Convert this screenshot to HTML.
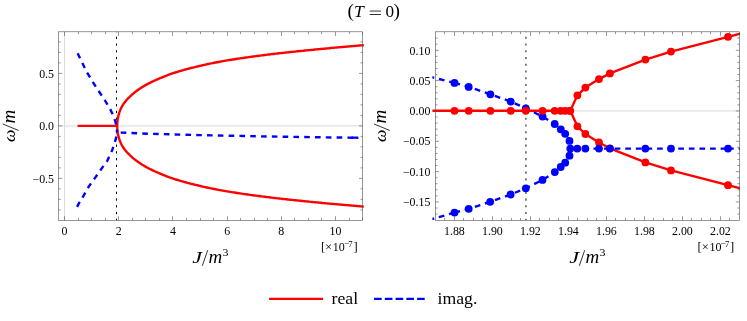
<!DOCTYPE html>
<html><head><meta charset="utf-8"><title>T=0</title>
<style>
html,body{margin:0;padding:0;background:#fff;}
body{width:747px;height:321px;overflow:hidden;font-family:"Liberation Serif",serif;}
svg{display:block;position:absolute;left:0;top:0;will-change:transform;}
</style></head><body>
<svg width="747" height="321" viewBox="0 0 747 321">
<rect width="747" height="321" fill="#fff"/>
<g fill="none">
<path d="M64.6 31.8 V220.3" stroke="#dadada" stroke-width="1"/>
<path d="M58.6 125.9 H362.6" stroke="#dadada" stroke-width="1"/>
<path d="M116.5 220.35 V31.8" stroke="#000" stroke-width="1" stroke-dasharray="2.3 4.44" stroke-dashoffset="0.6"/>
</g>
<clipPath id="cl"><rect x="58.6" y="31.8" width="305.2" height="188.5"/></clipPath>
<clipPath id="cr"><rect x="432.4" y="31.8" width="307.6" height="188.5"/></clipPath>
<g fill="none" clip-path="url(#cl)" stroke-linejoin="round">
<path d="M77.6 125.9 H117.2" stroke="#ff0000" stroke-width="2.4"/>
<path d="M364 45.18 L362.56 45.29 L361.12 45.41 L359.68 45.53 L358.24 45.65 L356.8 45.77 L355.36 45.89 L353.92 46.02 L352.48 46.14 L351.04 46.26 L349.6 46.39 L348.16 46.51 L346.72 46.64 L345.28 46.76 L343.84 46.89 L342.4 47.02 L340.96 47.14 L339.52 47.27 L338.08 47.4 L336.64 47.53 L335.19 47.66 L333.75 47.79 L332.31 47.92 L330.87 48.05 L329.43 48.18 L327.99 48.32 L326.55 48.45 L325.11 48.59 L323.67 48.72 L322.23 48.86 L320.79 49 L319.35 49.14 L317.91 49.27 L316.47 49.41 L315.03 49.55 L313.59 49.7 L312.15 49.84 L310.71 49.98 L309.27 50.12 L307.83 50.27 L306.39 50.41 L304.95 50.55 L303.51 50.7 L302.07 50.84 L300.63 50.99 L299.19 51.14 L297.75 51.28 L296.31 51.43 L294.87 51.58 L293.43 51.73 L291.99 51.88 L290.55 52.04 L289.11 52.19 L287.67 52.35 L286.23 52.5 L284.79 52.66 L283.35 52.82 L281.91 52.98 L280.47 53.14 L279.03 53.31 L277.58 53.47 L276.14 53.64 L274.7 53.81 L273.26 53.98 L271.82 54.15 L270.38 54.32 L268.94 54.49 L267.5 54.67 L266.06 54.85 L264.62 55.02 L263.18 55.21 L261.74 55.39 L260.3 55.57 L258.86 55.76 L257.42 55.95 L255.98 56.14 L254.54 56.33 L253.1 56.52 L251.66 56.72 L250.22 56.92 L248.78 57.12 L247.34 57.32 L245.9 57.53 L244.46 57.73 L243.02 57.94 L241.58 58.16 L240.14 58.37 L238.7 58.59 L237.26 58.81 L235.82 59.03 L234.38 59.26 L232.94 59.49 L231.5 59.72 L230.06 59.95 L228.62 60.19 L227.18 60.43 L225.74 60.68 L224.3 60.92 L222.86 61.18 L221.42 61.44 L219.97 61.7 L218.53 61.96 L217.09 62.23 L215.65 62.5 L214.21 62.78 L212.77 63.06 L211.33 63.35 L209.89 63.65 L208.45 63.96 L207.01 64.27 L205.57 64.59 L204.13 64.92 L202.69 65.25 L201.25 65.58 L199.81 65.92 L198.37 66.26 L196.93 66.6 L195.49 66.94 L194.05 67.3 L192.61 67.65 L191.17 68.01 L189.73 68.38 L188.29 68.76 L186.85 69.14 L185.41 69.53 L183.97 69.93 L182.53 70.34 L181.09 70.76 L179.65 71.18 L178.21 71.61 L176.77 72.06 L175.33 72.51 L173.89 72.98 L172.45 73.46 L171.01 73.95 L169.57 74.45 L168.13 74.99 L166.69 75.54 L165.25 76.11 L163.81 76.7 L162.36 77.28 L160.92 77.87 L159.48 78.46 L158.04 79.06 L156.6 79.68 L155.16 80.32 L153.72 80.98 L152.28 81.66 L150.84 82.36 L149.4 83.08 L147.96 83.82 L146.52 84.59 L145.08 85.39 L143.64 86.23 L142.2 87.1 L140.76 88.01 L139.32 88.96 L137.88 89.96 L136.44 91.01 L135 92.12 L134.85 92.24 L134.7 92.36 L134.55 92.48 L134.4 92.61 L134.25 92.73 L134.1 92.85 L133.95 92.98 L133.8 93.1 L133.65 93.23 L133.5 93.35 L133.35 93.48 L133.21 93.61 L133.06 93.74 L132.91 93.87 L132.76 94 L132.61 94.13 L132.46 94.26 L132.31 94.39 L132.16 94.53 L132.01 94.66 L131.86 94.8 L131.71 94.94 L131.56 95.07 L131.41 95.21 L131.26 95.35 L131.11 95.48 L130.96 95.62 L130.81 95.76 L130.66 95.9 L130.51 96.04 L130.36 96.18 L130.21 96.32 L130.06 96.46 L129.91 96.6 L129.76 96.74 L129.62 96.88 L129.47 97.02 L129.32 97.17 L129.17 97.31 L129.02 97.46 L128.87 97.61 L128.72 97.75 L128.57 97.9 L128.42 98.05 L128.27 98.2 L128.12 98.35 L127.97 98.51 L127.82 98.66 L127.67 98.82 L127.52 98.98 L127.37 99.13 L127.22 99.29 L127.07 99.46 L126.92 99.62 L126.77 99.79 L126.62 99.95 L126.47 100.12 L126.32 100.29 L126.17 100.46 L126.03 100.64 L125.88 100.81 L125.73 100.99 L125.58 101.17 L125.43 101.36 L125.28 101.54 L125.13 101.73 L124.98 101.92 L124.83 102.11 L124.68 102.31 L124.53 102.51 L124.38 102.71 L124.23 102.92 L124.08 103.12 L123.93 103.34 L123.78 103.55 L123.63 103.77 L123.48 103.99 L123.33 104.22 L123.18 104.45 L123.03 104.68 L122.88 104.92 L122.73 105.16 L122.58 105.41 L122.44 105.66 L122.29 105.92 L122.14 106.18 L121.99 106.45 L121.84 106.73 L121.69 107.01 L121.54 107.29 L121.39 107.59 L121.24 107.89 L121.09 108.19 L120.94 108.51 L120.79 108.83 L120.64 109.17 L120.49 109.51 L120.34 109.86 L120.19 110.22 L120.04 110.59 L119.89 110.98 L119.74 111.38 L119.59 111.79 L119.44 112.22 L119.29 112.66 L119.14 113.12 L118.99 113.61 L118.85 114.11 L118.7 114.64 L118.55 115.2 L118.4 115.8 L118.25 116.44 L118.1 117.13 L117.95 117.88 L117.8 118.71 L117.65 119.66 L117.5 120.8 L117.35 122.29 L117.2 125.9 L117.35 129.51 L117.5 131 L117.65 132.14 L117.8 133.09 L117.95 133.92 L118.1 134.67 L118.25 135.36 L118.4 136 L118.55 136.6 L118.7 137.16 L118.85 137.69 L118.99 138.19 L119.14 138.68 L119.29 139.14 L119.44 139.58 L119.59 140.01 L119.74 140.42 L119.89 140.82 L120.04 141.21 L120.19 141.58 L120.34 141.94 L120.49 142.29 L120.64 142.63 L120.79 142.97 L120.94 143.29 L121.09 143.61 L121.24 143.91 L121.39 144.21 L121.54 144.51 L121.69 144.79 L121.84 145.07 L121.99 145.35 L122.14 145.62 L122.29 145.88 L122.44 146.14 L122.58 146.39 L122.73 146.64 L122.88 146.88 L123.03 147.12 L123.18 147.35 L123.33 147.58 L123.48 147.81 L123.63 148.03 L123.78 148.25 L123.93 148.46 L124.08 148.68 L124.23 148.88 L124.38 149.09 L124.53 149.29 L124.68 149.49 L124.83 149.69 L124.98 149.88 L125.13 150.07 L125.28 150.26 L125.43 150.44 L125.58 150.63 L125.73 150.81 L125.88 150.99 L126.03 151.16 L126.17 151.34 L126.32 151.51 L126.47 151.68 L126.62 151.85 L126.77 152.01 L126.92 152.18 L127.07 152.34 L127.22 152.51 L127.37 152.67 L127.52 152.82 L127.67 152.98 L127.82 153.14 L127.97 153.29 L128.12 153.45 L128.27 153.6 L128.42 153.75 L128.57 153.9 L128.72 154.05 L128.87 154.19 L129.02 154.34 L129.17 154.49 L129.32 154.63 L129.47 154.78 L129.62 154.92 L129.76 155.06 L129.91 155.2 L130.06 155.34 L130.21 155.48 L130.36 155.62 L130.51 155.76 L130.66 155.9 L130.81 156.04 L130.96 156.18 L131.11 156.32 L131.26 156.45 L131.41 156.59 L131.56 156.73 L131.71 156.86 L131.86 157 L132.01 157.14 L132.16 157.27 L132.31 157.41 L132.46 157.54 L132.61 157.67 L132.76 157.8 L132.91 157.93 L133.06 158.06 L133.21 158.19 L133.35 158.32 L133.5 158.45 L133.65 158.57 L133.8 158.7 L133.95 158.82 L134.1 158.95 L134.25 159.07 L134.4 159.19 L134.55 159.32 L134.7 159.44 L134.85 159.56 L135 159.68 L136.44 160.79 L137.88 161.84 L139.32 162.84 L140.76 163.79 L142.2 164.7 L143.64 165.57 L145.08 166.41 L146.52 167.21 L147.96 167.98 L149.4 168.72 L150.84 169.44 L152.28 170.14 L153.72 170.82 L155.16 171.48 L156.6 172.12 L158.04 172.74 L159.48 173.34 L160.92 173.93 L162.36 174.52 L163.81 175.1 L165.25 175.69 L166.69 176.26 L168.13 176.81 L169.57 177.35 L171.01 177.85 L172.45 178.34 L173.89 178.82 L175.33 179.29 L176.77 179.74 L178.21 180.19 L179.65 180.62 L181.09 181.04 L182.53 181.46 L183.97 181.87 L185.41 182.27 L186.85 182.66 L188.29 183.04 L189.73 183.42 L191.17 183.79 L192.61 184.15 L194.05 184.5 L195.49 184.86 L196.93 185.2 L198.37 185.54 L199.81 185.88 L201.25 186.22 L202.69 186.55 L204.13 186.88 L205.57 187.21 L207.01 187.53 L208.45 187.84 L209.89 188.15 L211.33 188.45 L212.77 188.74 L214.21 189.02 L215.65 189.3 L217.09 189.57 L218.53 189.84 L219.97 190.1 L221.42 190.36 L222.86 190.62 L224.3 190.88 L225.74 191.12 L227.18 191.37 L228.62 191.61 L230.06 191.85 L231.5 192.08 L232.94 192.31 L234.38 192.54 L235.82 192.77 L237.26 192.99 L238.7 193.21 L240.14 193.43 L241.58 193.64 L243.02 193.86 L244.46 194.07 L245.9 194.27 L247.34 194.48 L248.78 194.68 L250.22 194.88 L251.66 195.08 L253.1 195.28 L254.54 195.47 L255.98 195.66 L257.42 195.85 L258.86 196.04 L260.3 196.23 L261.74 196.41 L263.18 196.59 L264.62 196.78 L266.06 196.95 L267.5 197.13 L268.94 197.31 L270.38 197.48 L271.82 197.65 L273.26 197.82 L274.7 197.99 L276.14 198.16 L277.58 198.33 L279.03 198.49 L280.47 198.66 L281.91 198.82 L283.35 198.98 L284.79 199.14 L286.23 199.3 L287.67 199.45 L289.11 199.61 L290.55 199.76 L291.99 199.92 L293.43 200.07 L294.87 200.22 L296.31 200.37 L297.75 200.52 L299.19 200.66 L300.63 200.81 L302.07 200.96 L303.51 201.1 L304.95 201.25 L306.39 201.39 L307.83 201.53 L309.27 201.68 L310.71 201.82 L312.15 201.96 L313.59 202.1 L315.03 202.25 L316.47 202.39 L317.91 202.53 L319.35 202.66 L320.79 202.8 L322.23 202.94 L323.67 203.08 L325.11 203.21 L326.55 203.35 L327.99 203.48 L329.43 203.62 L330.87 203.75 L332.31 203.88 L333.75 204.01 L335.19 204.14 L336.64 204.27 L338.08 204.4 L339.52 204.53 L340.96 204.66 L342.4 204.78 L343.84 204.91 L345.28 205.04 L346.72 205.16 L348.16 205.29 L349.6 205.41 L351.04 205.54 L352.48 205.66 L353.92 205.78 L355.36 205.91 L356.8 206.03 L358.24 206.15 L359.68 206.27 L361.12 206.39 L362.56 206.51 L364 206.62" stroke="#ff0000" stroke-width="2.4"/>
<path d="M77.6 53.3 L82 62.3 L87 72.5 L93 82.3 L99 91.5 L105 100.5 L110.3 109.4 L113.2 115.3 L115.4 121.4 L116.5 126.5 L117.1 132.3" stroke="#0000ff" stroke-width="2.4" stroke-dasharray="5.6 5.2"/>
<path d="M77.1 206.9 L78.9 203.4 L83.9 195.2 L88.9 186.4 L95.2 177.6 L102.8 166.9 L107.2 160.9 L112.2 150.2 L115.4 140.1 L116.5 136.2 L117.1 132.3" stroke="#0000ff" stroke-width="2.4" stroke-dasharray="5.6 5.2"/>
<path d="M117.1 132.3 L121.7 132.6 L148 133.75 L200 135.1 L260 136.35 L320 137.3 L358.3 137.75" stroke="#0000ff" stroke-width="2.4" stroke-dasharray="5.6 5.2" stroke-dashoffset="-3.6"/>
<path d="M351.5 137.67 L358.3 137.75" stroke="#0000ff" stroke-width="2.4"/>
</g>
<path d="M64.5 220.3v-4.1 M64.5 31.8v4.1 M118.5 220.3v-4.1 M118.5 31.8v4.1 M172.5 220.3v-4.1 M172.5 31.8v4.1 M227.5 220.3v-4.1 M227.5 31.8v4.1 M281.5 220.3v-4.1 M281.5 31.8v4.1 M335.5 220.3v-4.1 M335.5 31.8v4.1 M78.5 220.3v-2.3 M78.5 31.8v2.3 M91.5 220.3v-2.3 M91.5 31.8v2.3 M105.5 220.3v-2.3 M105.5 31.8v2.3 M132.5 220.3v-2.3 M132.5 31.8v2.3 M145.5 220.3v-2.3 M145.5 31.8v2.3 M159.5 220.3v-2.3 M159.5 31.8v2.3 M186.5 220.3v-2.3 M186.5 31.8v2.3 M200.5 220.3v-2.3 M200.5 31.8v2.3 M213.5 220.3v-2.3 M213.5 31.8v2.3 M240.5 220.3v-2.3 M240.5 31.8v2.3 M254.5 220.3v-2.3 M254.5 31.8v2.3 M267.5 220.3v-2.3 M267.5 31.8v2.3 M294.5 220.3v-2.3 M294.5 31.8v2.3 M308.5 220.3v-2.3 M308.5 31.8v2.3 M321.5 220.3v-2.3 M321.5 31.8v2.3 M349.5 220.3v-2.3 M349.5 31.8v2.3 M362.5 220.3v-2.3 M362.5 31.8v2.3 M58.6 178.4h3.6 M362.6 178.4h-3.6 M58.6 125.9h3.6 M362.6 125.9h-3.6 M58.6 73.4h3.6 M362.6 73.4h-3.6 M58.6 209.9h2.1 M362.6 209.9h-2.1 M58.6 199.4h2.1 M362.6 199.4h-2.1 M58.6 188.9h2.1 M362.6 188.9h-2.1 M58.6 167.9h2.1 M362.6 167.9h-2.1 M58.6 157.4h2.1 M362.6 157.4h-2.1 M58.6 146.9h2.1 M362.6 146.9h-2.1 M58.6 136.4h2.1 M362.6 136.4h-2.1 M58.6 115.4h2.1 M362.6 115.4h-2.1 M58.6 104.9h2.1 M362.6 104.9h-2.1 M58.6 94.4h2.1 M362.6 94.4h-2.1 M58.6 83.9h2.1 M362.6 83.9h-2.1 M58.6 62.9h2.1 M362.6 62.9h-2.1 M58.6 52.4h2.1 M362.6 52.4h-2.1 M58.6 41.9h2.1 M362.6 41.9h-2.1" stroke="#505050" stroke-width="0.6" fill="none"/>
<rect x="58.6" y="31.8" width="304" height="188.5" fill="none" stroke="#505050" stroke-width="0.6"/>
<g font-family="Liberation Serif, serif" font-size="11.9" fill="#000">
<text x="64.6" y="235.2" text-anchor="middle">0</text>
<text x="118.78" y="235.2" text-anchor="middle">2</text>
<text x="172.96" y="235.2" text-anchor="middle">4</text>
<text x="227.14" y="235.2" text-anchor="middle">6</text>
<text x="281.32" y="235.2" text-anchor="middle">8</text>
<text x="335.5" y="235.2" text-anchor="middle">10</text>
<text x="54.0" y="182.6" text-anchor="end">−0.5</text>
<text x="54.0" y="130.1" text-anchor="end">0.0</text>
<text x="54.0" y="77.6" text-anchor="end">0.5</text>
</g>
<g fill="none">
<path d="M435.4 110.95 H739.4" stroke="#dadada" stroke-width="1"/>
<path d="M525.9 220.35 V31.8" stroke="#666" stroke-width="1.6" stroke-dasharray="2.1 4.64" stroke-dashoffset="0.5"/>
</g>
<g clip-path="url(#cr)">
<g fill="none" stroke-linejoin="round" stroke-width="2.4">
<path d="M431 77 L454.5 82.9" stroke="#0000ff" stroke-dasharray="5.7 4.9" stroke-dashoffset="2.4"/>
<path d="M454.5 82.9 L468.7 86.9 L490.4 94.3 L510.7 101.6 L525.8 108.3 L542.6 116.6 L554.7 124 L560.8 129.3 L565.2 133.8 L569.5 140.9 L570.3 148.6" stroke="#0000ff" stroke-dasharray="5.7 4.9"/>
<path d="M431 219.4 L454.5 212.6" stroke="#0000ff" stroke-dasharray="5.7 4.9" stroke-dashoffset="2.4"/>
<path d="M454.5 212.6 L468.7 208.8 L490.2 201.8 L510.6 194.5 L525.8 188.3 L542.5 179.9 L554.8 172.1 L560.7 167 L565.2 162.7 L569.5 155.7 L570.3 148.6" stroke="#0000ff" stroke-dasharray="5.7 4.9"/>
</g>
<g fill="#0000ff">
<circle cx="454.5" cy="82.9" r="3.9"/>
<circle cx="468.7" cy="86.9" r="3.9"/>
<circle cx="490.4" cy="94.3" r="3.9"/>
<circle cx="510.7" cy="101.6" r="3.9"/>
<circle cx="525.8" cy="108.3" r="3.9"/>
<circle cx="542.6" cy="116.6" r="3.9"/>
<circle cx="554.7" cy="124" r="3.9"/>
<circle cx="560.8" cy="129.3" r="3.9"/>
<circle cx="565.2" cy="133.8" r="3.9"/>
<circle cx="569.5" cy="140.9" r="3.9"/>
<circle cx="454.5" cy="212.6" r="3.9"/>
<circle cx="468.7" cy="208.8" r="3.9"/>
<circle cx="490.2" cy="201.8" r="3.9"/>
<circle cx="510.6" cy="194.5" r="3.9"/>
<circle cx="525.8" cy="188.3" r="3.9"/>
<circle cx="542.5" cy="179.9" r="3.9"/>
<circle cx="554.8" cy="172.1" r="3.9"/>
<circle cx="560.7" cy="167" r="3.9"/>
<circle cx="565.2" cy="162.7" r="3.9"/>
<circle cx="569.5" cy="155.7" r="3.9"/>
</g>
<g fill="none" stroke-linejoin="round" stroke-width="2.4">
<path d="M431 110.8 H570.3" stroke="#ff0000"/>
<path d="M740.5 33.7 L728 36.85 L671 51.6 L645.4 59.6 L609.9 73.4 L599 79.1 L585.4 87.6 L577.4 95.35 L570.3 110.8 L577.4 126.35 L585.4 134 L599 142.5 L609.9 148.3 L645.4 162.4 L671 170.4 L728 185.15 L740.5 188.3" stroke="#ff0000"/>
</g>
<g fill="#ff0000">
<circle cx="454.5" cy="110.8" r="3.9"/>
<circle cx="468.7" cy="110.8" r="3.9"/>
<circle cx="490.4" cy="110.8" r="3.9"/>
<circle cx="510.7" cy="110.8" r="3.9"/>
<circle cx="525.8" cy="110.8" r="3.9"/>
<circle cx="542.6" cy="110.8" r="3.9"/>
<circle cx="554.7" cy="110.8" r="3.9"/>
<circle cx="560.7" cy="110.8" r="3.9"/>
<circle cx="565" cy="110.8" r="3.9"/>
<circle cx="569.3" cy="110.8" r="3.9"/>
<circle cx="570.3" cy="110.8" r="3.9"/>
<circle cx="577.4" cy="95.35" r="3.9"/>
<circle cx="585.4" cy="87.6" r="3.9"/>
<circle cx="599" cy="79.1" r="3.9"/>
<circle cx="609.9" cy="73.4" r="3.9"/>
<circle cx="645.4" cy="59.6" r="3.9"/>
<circle cx="671" cy="51.6" r="3.9"/>
<circle cx="728" cy="36.85" r="3.9"/>
<circle cx="577.4" cy="126.35" r="3.9"/>
<circle cx="585.4" cy="134" r="3.9"/>
<circle cx="599" cy="142.5" r="3.9"/>
<circle cx="609.9" cy="148.3" r="3.9"/>
<circle cx="645.4" cy="162.4" r="3.9"/>
<circle cx="671" cy="170.4" r="3.9"/>
<circle cx="728" cy="185.15" r="3.9"/>
</g>
<path d="M570.3 148.6 L577.3 148.6 L585.4 148.6 L599 148.6 L609.9 148.6 L645.4 148.6 L671 148.6 L728 148.6" stroke="#0000ff" stroke-dasharray="5.7 4.9" stroke-dashoffset="8.65" fill="none" stroke-width="2.4"/>
<path d="M728 148.6 L742 148.6" stroke="#0000ff" stroke-dasharray="5.7 4.9" fill="none" stroke-width="2.4"/>
<g fill="#0000ff">
<circle cx="570.3" cy="148.6" r="3.9"/>
<circle cx="577.3" cy="148.6" r="3.9"/>
<circle cx="585.4" cy="148.6" r="3.9"/>
<circle cx="599" cy="148.6" r="3.9"/>
<circle cx="609.9" cy="148.6" r="3.9"/>
<circle cx="645.4" cy="148.6" r="3.9"/>
<circle cx="671" cy="148.6" r="3.9"/>
<circle cx="728" cy="148.6" r="3.9"/>
</g>
</g>
<path d="M454.5 220.3v-4.1 M454.5 31.8v4.1 M492.5 220.3v-4.1 M492.5 31.8v4.1 M530.5 220.3v-4.1 M530.5 31.8v4.1 M568.5 220.3v-4.1 M568.5 31.8v4.1 M606.5 220.3v-4.1 M606.5 31.8v4.1 M644.5 220.3v-4.1 M644.5 31.8v4.1 M682.5 220.3v-4.1 M682.5 31.8v4.1 M720.5 220.3v-4.1 M720.5 31.8v4.1 M444.5 220.3v-2.3 M444.5 31.8v2.3 M463.5 220.3v-2.3 M463.5 31.8v2.3 M473.5 220.3v-2.3 M473.5 31.8v2.3 M482.5 220.3v-2.3 M482.5 31.8v2.3 M501.5 220.3v-2.3 M501.5 31.8v2.3 M511.5 220.3v-2.3 M511.5 31.8v2.3 M520.5 220.3v-2.3 M520.5 31.8v2.3 M539.5 220.3v-2.3 M539.5 31.8v2.3 M549.5 220.3v-2.3 M549.5 31.8v2.3 M558.5 220.3v-2.3 M558.5 31.8v2.3 M577.5 220.3v-2.3 M577.5 31.8v2.3 M587.5 220.3v-2.3 M587.5 31.8v2.3 M596.5 220.3v-2.3 M596.5 31.8v2.3 M615.5 220.3v-2.3 M615.5 31.8v2.3 M625.5 220.3v-2.3 M625.5 31.8v2.3 M634.5 220.3v-2.3 M634.5 31.8v2.3 M653.5 220.3v-2.3 M653.5 31.8v2.3 M663.5 220.3v-2.3 M663.5 31.8v2.3 M672.5 220.3v-2.3 M672.5 31.8v2.3 M691.5 220.3v-2.3 M691.5 31.8v2.3 M701.5 220.3v-2.3 M701.5 31.8v2.3 M710.5 220.3v-2.3 M710.5 31.8v2.3 M729.5 220.3v-2.3 M729.5 31.8v2.3 M435.4 201.93h3.6 M739.4 201.93h-3.6 M435.4 171.6h3.6 M739.4 171.6h-3.6 M435.4 141.28h3.6 M739.4 141.28h-3.6 M435.4 110.95h3.6 M739.4 110.95h-3.6 M435.4 80.62h3.6 M739.4 80.62h-3.6 M435.4 50.3h3.6 M739.4 50.3h-3.6 M435.4 214.06h2.1 M739.4 214.06h-2.1 M435.4 207.99h2.1 M739.4 207.99h-2.1 M435.4 195.86h2.1 M739.4 195.86h-2.1 M435.4 189.8h2.1 M739.4 189.8h-2.1 M435.4 183.73h2.1 M739.4 183.73h-2.1 M435.4 177.67h2.1 M739.4 177.67h-2.1 M435.4 165.53h2.1 M739.4 165.53h-2.1 M435.4 159.47h2.1 M739.4 159.47h-2.1 M435.4 153.41h2.1 M739.4 153.41h-2.1 M435.4 147.34h2.1 M739.4 147.34h-2.1 M435.4 135.21h2.1 M739.4 135.21h-2.1 M435.4 129.15h2.1 M739.4 129.15h-2.1 M435.4 123.08h2.1 M739.4 123.08h-2.1 M435.4 117.02h2.1 M739.4 117.02h-2.1 M435.4 104.89h2.1 M739.4 104.89h-2.1 M435.4 98.82h2.1 M739.4 98.82h-2.1 M435.4 92.75h2.1 M739.4 92.75h-2.1 M435.4 86.69h2.1 M739.4 86.69h-2.1 M435.4 74.56h2.1 M739.4 74.56h-2.1 M435.4 68.5h2.1 M739.4 68.5h-2.1 M435.4 62.43h2.1 M739.4 62.43h-2.1 M435.4 56.37h2.1 M739.4 56.37h-2.1 M435.4 44.23h2.1 M739.4 44.23h-2.1 M435.4 38.17h2.1 M739.4 38.17h-2.1" stroke="#505050" stroke-width="0.6" fill="none"/>
<rect x="435.4" y="31.8" width="304" height="188.5" fill="none" stroke="#505050" stroke-width="0.6"/>
<g font-family="Liberation Serif, serif" font-size="11.9" fill="#000">
<text x="454.4" y="235.2" text-anchor="middle">1.88</text>
<text x="492.4" y="235.2" text-anchor="middle">1.90</text>
<text x="530.4" y="235.2" text-anchor="middle">1.92</text>
<text x="568.4" y="235.2" text-anchor="middle">1.94</text>
<text x="606.4" y="235.2" text-anchor="middle">1.96</text>
<text x="644.4" y="235.2" text-anchor="middle">1.98</text>
<text x="682.4" y="235.2" text-anchor="middle">2.00</text>
<text x="720.4" y="235.2" text-anchor="middle">2.02</text>
<text x="430.4" y="206.12" text-anchor="end">−0.15</text>
<text x="430.4" y="175.8" text-anchor="end">−0.10</text>
<text x="430.4" y="145.47" text-anchor="end">−0.05</text>
<text x="430.4" y="115.15" text-anchor="end">0.00</text>
<text x="430.4" y="84.83" text-anchor="end">0.05</text>
<text x="430.4" y="54.5" text-anchor="end">0.10</text>
</g>
<g font-family="Liberation Serif, serif" fill="#000">
<text x="347.5" y="16.9" font-size="19.4">(</text>
<text x="354.0" y="17.0" font-size="17.6" font-style="italic">T</text>
<path d="M369.7 11.05 H381 M369.7 14.5 H381" stroke="#000" stroke-width="0.8" fill="none"/>
<text x="385.5" y="17.0" font-size="17.2">0</text>
<text x="393.6" y="16.9" font-size="19.4">)</text>
</g>
<g transform="translate(0 0)" font-family="Liberation Serif, serif" fill="#000">
<text transform="translate(192.3 262.5) scale(1.28 1)" font-size="17.3" font-style="italic">J</text>
<path d="M207.7 250.2 L202.3 265.8" stroke="#000" stroke-width="0.8" fill="none"/>
<text x="208.6" y="262.5" font-size="19.0" font-style="italic">m</text>
<text transform="translate(222.4 256.1) scale(1.15 1)" font-size="10.4">3</text>
</g>
<g transform="translate(377 0)" font-family="Liberation Serif, serif" fill="#000">
<text transform="translate(192.3 262.5) scale(1.28 1)" font-size="17.3" font-style="italic">J</text>
<path d="M207.7 250.2 L202.3 265.8" stroke="#000" stroke-width="0.8" fill="none"/>
<text x="208.6" y="262.5" font-size="19.0" font-style="italic">m</text>
<text transform="translate(222.4 256.1) scale(1.15 1)" font-size="10.4">3</text>
</g>
<g transform="translate(0 0)" font-family="Liberation Serif, serif" fill="#000">
<text x="320.9" y="250.6" font-size="12.6">[</text>
<text x="325.0" y="251.4" font-size="12.6">×</text>
<text transform="translate(332.7 251.1) scale(0.89 1)" font-size="13.5">10</text>
<text x="343.9" y="247.0" font-size="9.2">−</text>
<text x="348.3" y="246.9" font-size="8.8">7</text>
<text x="353.4" y="250.6" font-size="12.6">]</text>
</g>
<g transform="translate(376.7 0)" font-family="Liberation Serif, serif" fill="#000">
<text x="320.9" y="250.6" font-size="12.6">[</text>
<text x="325.0" y="251.4" font-size="12.6">×</text>
<text transform="translate(332.7 251.1) scale(0.89 1)" font-size="13.5">10</text>
<text x="343.9" y="247.0" font-size="9.2">−</text>
<text x="348.3" y="246.9" font-size="8.8">7</text>
<text x="353.4" y="250.6" font-size="12.6">]</text>
</g>
<g transform="translate(15 142) rotate(-90)" font-family="Liberation Serif, serif" fill="#000">
<text x="0.0" y="0" font-size="17.6" font-style="italic">ω</text>
<path d="M11.5 3.7 L18 -12.2" stroke="#000" stroke-width="0.8" fill="none"/>
<text x="18.4" y="0" font-size="19.0" font-style="italic">m</text>
</g>
<g transform="translate(386.2 142) rotate(-90)" font-family="Liberation Serif, serif" fill="#000">
<text x="0.0" y="0" font-size="17.6" font-style="italic">ω</text>
<path d="M11.5 3.7 L18 -12.2" stroke="#000" stroke-width="0.8" fill="none"/>
<text x="18.4" y="0" font-size="19.0" font-style="italic">m</text>
</g>
<path d="M269.1 298.8 H323.1" stroke="#ff0000" stroke-width="2.3" fill="none"/>
<text x="331.6" y="303.7" font-family="Liberation Serif, serif" font-size="17.7">real</text>
<path d="M374.1 298.9 H424.8" stroke="#0000ff" stroke-width="2.3" stroke-dasharray="7.6 3.15" fill="none"/>
<text x="437.6" y="303.7" font-family="Liberation Serif, serif" font-size="17.7">imag.</text>
</svg>
</body></html>
